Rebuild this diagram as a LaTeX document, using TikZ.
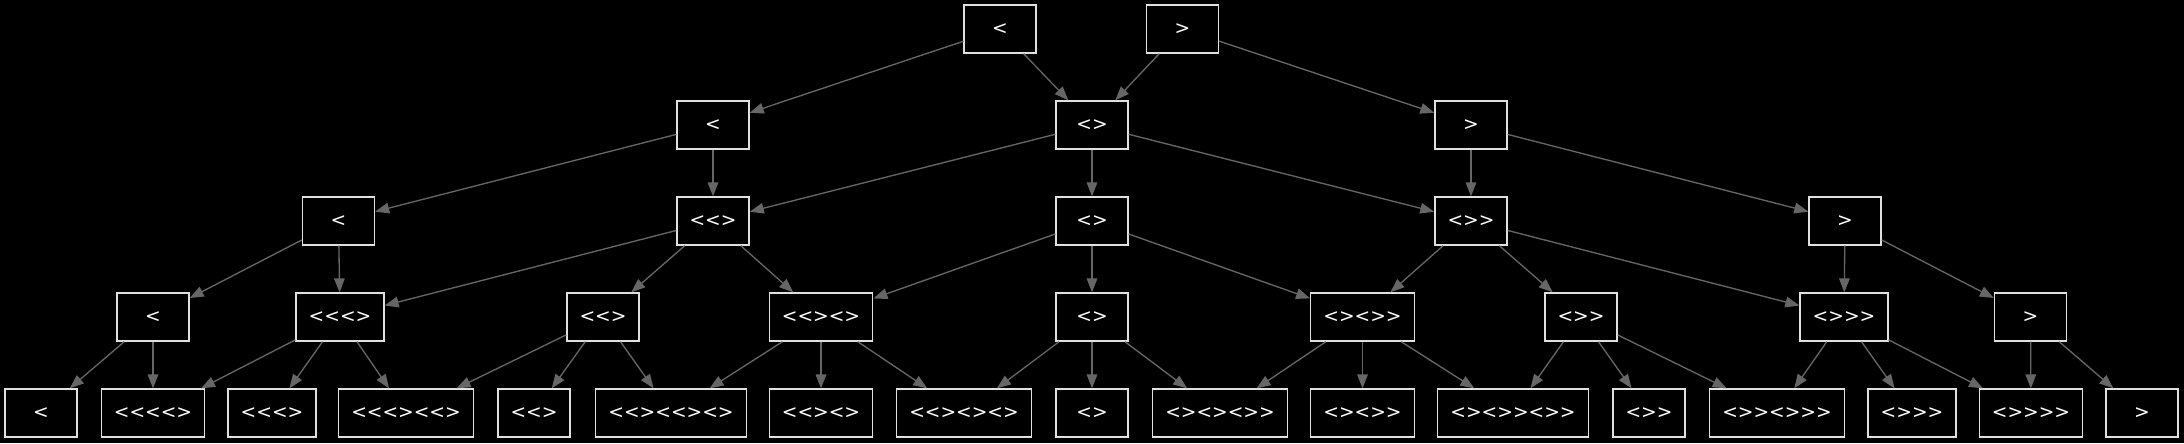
\documentclass[tikz,border=0pt]{standalone}
\usepackage{fontspec}
\newfontfamily\lblfont{DejaVu Sans}[Ligatures=TeXOff]
\usetikzlibrary{arrows.meta}
\definecolor{edgegray}{HTML}{666666}
\definecolor{boxline}{HTML}{E0E0E0}
\definecolor{baseline}{HTML}{404040}
\tikzset{
  box/.style={draw=boxline, line width=1pt, fill=black, text=white, rectangle,
    minimum width=54pt, minimum height=36pt, inner xsep=9.5pt, inner ysep=0pt,
    font=\lblfont\fontsize{14pt}{16pt}\selectfont},
  edge/.style={draw=edgegray, line width=1pt, -{Triangle[length=10.5pt,width=8pt]}}
}
\begin{document}
\begin{tikzpicture}[x=0.75pt,y=-0.75pt]
\fill[black] (0,0) rectangle (2184,443);
\useasboundingbox (0,0) rectangle (2184,443);
\draw[baseline, line width=1.5pt] (0,442) -- (2184,442);
% row 0
\node[box] (a0) at (1000,29) {<};
\node[box] (b0) at (1182.5,29) {>};
% row 1
\node[box] (r1a) at (713,125) {<};
\node[box] (r1b) at (1092,125) {<>};
\node[box] (r1c) at (1471,125) {>};
% row 2
\node[box] (r2a) at (338.5,221) {<};
\node[box] (r2b) at (713,221) {<<>};
\node[box] (r2c) at (1092,221) {<>};
\node[box] (r2d) at (1471,221) {<>>};
\node[box] (r2e) at (1845,221) {>};
% row 3
\node[box] (r3a) at (153,317) {<};
\node[box] (r3b) at (340,317) {<<<>};
\node[box] (r3c) at (603,317) {<<>};
\node[box] (r3d) at (821,317) {<<><>};
\node[box] (r3e) at (1092,317) {<>};
\node[box] (r3f) at (1362.5,317) {<><>>};
\node[box] (r3g) at (1581,317) {<>>};
\node[box] (r3h) at (1844,317) {<>>>};
\node[box] (r3i) at (2030.5,317) {>};
% row 4
\node[box] (r4a) at (41,413) {<};
\node[box] (r4b) at (153,413) {<<<<>};
\node[box] (r4c) at (272,413) {<<<>};
\node[box] (r4d) at (406,413) {<<<><<>};
\node[box] (r4e) at (534,413) {<<>};
\node[box] (r4f) at (671,413) {<<><<><>};
\node[box] (r4g) at (821,413) {<<><>};
\node[box] (r4h) at (964,413) {<<><><>};
\node[box] (r4i) at (1092,413) {<>};
\node[box] (r4j) at (1220,413) {<><><>>};
\node[box] (r4k) at (1362.5,413) {<><>>};
\node[box] (r4l) at (1513,413) {<><>><>>};
\node[box] (r4m) at (1649,413) {<>>};
\node[box] (r4n) at (1777,413) {<>><>>>};
\node[box] (r4o) at (1912,413) {<>>>};
\node[box] (r4p) at (2031,413) {<>>>>};
\node[box] (r4q) at (2142,413) {>};
% edges
\draw[edge] (a0) -- (r1a);
\draw[edge] (a0) -- (r1b);
\draw[edge] (b0) -- (r1b);
\draw[edge] (b0) -- (r1c);
\draw[edge] (r1a) -- (r2a);
\draw[edge] (r1a) -- (r2b);
\draw[edge] (r1b) -- (r2b);
\draw[edge] (r1b) -- (r2c);
\draw[edge] (r1b) -- (r2d);
\draw[edge] (r1c) -- (r2d);
\draw[edge] (r1c) -- (r2e);
\draw[edge] (r2a) -- (r3a);
\draw[edge] (r2a) -- (r3b);
\draw[edge] (r2b) -- (r3b);
\draw[edge] (r2b) -- (r3c);
\draw[edge] (r2b) -- (r3d);
\draw[edge] (r2c) -- (r3d);
\draw[edge] (r2c) -- (r3e);
\draw[edge] (r2c) -- (r3f);
\draw[edge] (r2d) -- (r3f);
\draw[edge] (r2d) -- (r3g);
\draw[edge] (r2d) -- (r3h);
\draw[edge] (r2e) -- (r3h);
\draw[edge] (r2e) -- (r3i);
\draw[edge] (r3a) -- (r4a);
\draw[edge] (r3a) -- (r4b);
\draw[edge] (r3b) -- (r4b);
\draw[edge] (r3b) -- (r4c);
\draw[edge] (r3b) -- (r4d);
\draw[edge] (r3c) -- (r4d);
\draw[edge] (r3c) -- (r4e);
\draw[edge] (r3c) -- (r4f);
\draw[edge] (r3d) -- (r4f);
\draw[edge] (r3d) -- (r4g);
\draw[edge] (r3d) -- (r4h);
\draw[edge] (r3e) -- (r4h);
\draw[edge] (r3e) -- (r4i);
\draw[edge] (r3e) -- (r4j);
\draw[edge] (r3f) -- (r4j);
\draw[edge] (r3f) -- (r4k);
\draw[edge] (r3f) -- (r4l);
\draw[edge] (r3g) -- (r4l);
\draw[edge] (r3g) -- (r4m);
\draw[edge] (r3g) -- (r4n);
\draw[edge] (r3h) -- (r4n);
\draw[edge] (r3h) -- (r4o);
\draw[edge] (r3h) -- (r4p);
\draw[edge] (r3i) -- (r4p);
\draw[edge] (r3i) -- (r4q);
\end{tikzpicture}
\end{document}
